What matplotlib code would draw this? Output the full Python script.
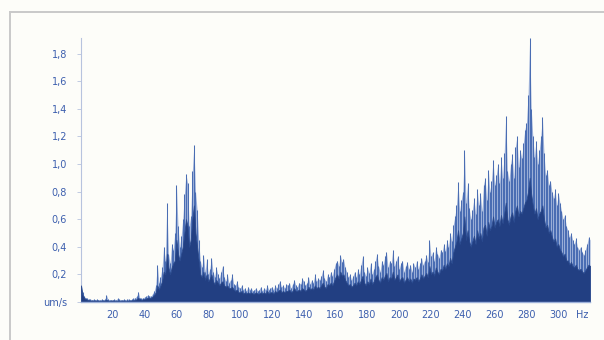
import matplotlib.pyplot as plt
import numpy as np
from matplotlib.lines import Line2D

# Spectrum, 1 Hz steps from 0 to 320 Hz
freq = np.arange(0, 321)

peak = [
    0.15, 0.07, 0.04, 0.03, 0.025, 0.02, 0.02, 0.015, 0.02, 0.015,
    0.02, 0.015, 0.015, 0.02, 0.015, 0.02, 0.05, 0.02, 0.015, 0.015,
    0.015, 0.02, 0.015, 0.025, 0.02, 0.015, 0.015, 0.02, 0.015, 0.02,
    0.02, 0.015, 0.02, 0.025, 0.03, 0.04, 0.075, 0.03, 0.025, 0.03,
    0.035, 0.04, 0.05, 0.045, 0.04, 0.06, 0.08, 0.12, 0.27, 0.14,
    0.18, 0.25, 0.4, 0.3, 0.72, 0.35, 0.28, 0.42, 0.38, 0.5,
    0.85, 0.55, 0.4, 0.48, 0.6, 0.78, 0.93, 0.86, 0.55, 0.62,
    0.95, 1.14, 0.8, 0.67, 0.45, 0.3, 0.25, 0.34, 0.22, 0.31,
    0.2, 0.24, 0.32, 0.22, 0.18, 0.25, 0.2, 0.17, 0.22, 0.26,
    0.18, 0.15, 0.2, 0.14, 0.16, 0.2, 0.13, 0.12, 0.15, 0.11,
    0.1, 0.12, 0.09, 0.1, 0.08, 0.11, 0.09, 0.1, 0.08, 0.09,
    0.1, 0.08, 0.09, 0.11, 0.08, 0.1, 0.09, 0.12, 0.09, 0.1,
    0.11, 0.09, 0.12, 0.1, 0.13, 0.15, 0.11, 0.12, 0.1, 0.13,
    0.12, 0.14, 0.1, 0.13, 0.16, 0.12, 0.11, 0.14, 0.13, 0.17,
    0.15, 0.12, 0.14, 0.18, 0.13, 0.16, 0.14, 0.2, 0.15, 0.17,
    0.16, 0.19, 0.23, 0.17, 0.15, 0.2, 0.18, 0.22, 0.19, 0.24,
    0.28, 0.3, 0.26, 0.34, 0.29, 0.31, 0.25, 0.22, 0.18, 0.2,
    0.16, 0.19, 0.22, 0.18, 0.24, 0.2, 0.27, 0.33, 0.22, 0.19,
    0.25, 0.21, 0.28, 0.2, 0.24, 0.3, 0.35, 0.26, 0.22, 0.3,
    0.27, 0.33, 0.36, 0.25, 0.3, 0.28, 0.38, 0.26, 0.3, 0.33,
    0.24, 0.28, 0.3, 0.22, 0.26, 0.29, 0.24, 0.27, 0.22, 0.28,
    0.25, 0.3, 0.24, 0.28, 0.32, 0.27, 0.3, 0.34, 0.29, 0.45,
    0.33, 0.36, 0.3, 0.4, 0.35, 0.32, 0.38, 0.36, 0.42, 0.37,
    0.45, 0.4, 0.5, 0.44, 0.56, 0.62, 0.7, 0.87, 0.66, 0.74,
    0.8, 1.1, 0.72, 0.86, 0.68, 0.6, 0.67, 0.75, 0.64, 0.82,
    0.7, 0.79, 0.66, 0.85, 0.9, 0.74, 0.96, 0.8, 0.88, 1.03,
    0.85, 0.92, 1.0, 0.86, 1.05, 0.9, 1.08, 1.35, 0.95, 0.88,
    1.0, 1.07, 0.9, 1.12, 1.2, 0.98, 1.1, 1.04, 1.15, 1.25,
    1.3, 1.5, 1.91, 1.4, 1.2, 1.05, 1.17, 1.0, 1.1, 1.2,
    1.34, 1.08, 0.92, 0.96, 0.85, 0.88, 0.8, 0.75, 0.82, 0.7,
    0.79, 0.72, 0.66, 0.6, 0.63, 0.55, 0.52, 0.47, 0.5, 0.45,
    0.42, 0.46, 0.4, 0.38, 0.4, 0.36, 0.34, 0.38, 0.42, 0.47,
    0.45,
]

body = [
    0.12, 0.05, 0.03, 0.02, 0.015, 0.012, 0.01, 0.01, 0.01, 0.01,
    0.01, 0.01, 0.008, 0.01, 0.01, 0.01, 0.015, 0.01, 0.008, 0.01,
    0.01, 0.01, 0.008, 0.01, 0.01, 0.008, 0.01, 0.01, 0.008, 0.01,
    0.01, 0.01, 0.012, 0.012, 0.015, 0.02, 0.03, 0.02, 0.015, 0.02,
    0.02, 0.025, 0.03, 0.03, 0.03, 0.04, 0.05, 0.07, 0.12, 0.09,
    0.12, 0.15, 0.22, 0.2, 0.35, 0.25, 0.2, 0.25, 0.28, 0.3,
    0.45, 0.35, 0.3, 0.35, 0.4, 0.5, 0.6, 0.55, 0.4, 0.45,
    0.6, 0.7, 0.5, 0.4, 0.3, 0.2, 0.18, 0.22, 0.16, 0.2,
    0.15, 0.17, 0.2, 0.15, 0.13, 0.16, 0.14, 0.12, 0.14, 0.15,
    0.12, 0.11, 0.12, 0.1, 0.1, 0.11, 0.09, 0.08, 0.09, 0.07,
    0.07, 0.08, 0.06, 0.07, 0.06, 0.07, 0.06, 0.07, 0.06, 0.06,
    0.07, 0.06, 0.06, 0.07, 0.06, 0.07, 0.06, 0.08, 0.06, 0.07,
    0.07, 0.06, 0.08, 0.07, 0.08, 0.09, 0.07, 0.08, 0.07, 0.08,
    0.08, 0.09, 0.07, 0.08, 0.1, 0.08, 0.08, 0.09, 0.08, 0.1,
    0.09, 0.08, 0.09, 0.11, 0.09, 0.1, 0.09, 0.12, 0.1, 0.11,
    0.1, 0.12, 0.14, 0.11, 0.1, 0.13, 0.12, 0.14, 0.12, 0.15,
    0.18, 0.2, 0.17, 0.22, 0.19, 0.2, 0.16, 0.14, 0.12, 0.13,
    0.11, 0.12, 0.14, 0.12, 0.15, 0.13, 0.16, 0.19, 0.14, 0.12,
    0.15, 0.13, 0.17, 0.13, 0.15, 0.18, 0.2, 0.16, 0.14, 0.18,
    0.16, 0.19, 0.21, 0.15, 0.18, 0.17, 0.22, 0.16, 0.18, 0.2,
    0.15, 0.17, 0.18, 0.14, 0.16, 0.18, 0.15, 0.17, 0.14, 0.17,
    0.16, 0.18, 0.15, 0.17, 0.2, 0.17, 0.19, 0.21, 0.18, 0.26,
    0.2, 0.22, 0.19, 0.25, 0.22, 0.2, 0.24, 0.23, 0.27, 0.24,
    0.28, 0.26, 0.32, 0.28, 0.36, 0.4, 0.44, 0.52, 0.42, 0.46,
    0.5, 0.62, 0.45, 0.52, 0.44, 0.4, 0.44, 0.48, 0.42, 0.52,
    0.46, 0.5, 0.44, 0.54, 0.56, 0.48, 0.58, 0.52, 0.55, 0.62,
    0.54, 0.58, 0.6, 0.55, 0.63, 0.57, 0.64, 0.72, 0.6, 0.56,
    0.62, 0.65, 0.58, 0.66, 0.7, 0.62, 0.66, 0.64, 0.68, 0.72,
    0.74, 0.8, 0.9, 0.78, 0.7, 0.64, 0.68, 0.6, 0.64, 0.66,
    0.7, 0.6, 0.54, 0.56, 0.5, 0.52, 0.47, 0.44, 0.46, 0.4,
    0.42, 0.38, 0.36, 0.33, 0.35, 0.3, 0.3, 0.27, 0.29, 0.26,
    0.25, 0.27, 0.24, 0.23, 0.24, 0.22, 0.21, 0.23, 0.25, 0.27,
    0.26,
]

x_ticks = [20, 40, 60, 80, 100, 120, 140, 160, 180, 200, 220, 240, 260, 280, 300, 315]
x_labels = ['20', '40', '60', '80', '100', '120', '140', '160', '180', '200',
            '220', '240', '260', '280', '300', 'Hz']
y_ticks = [0, 0.2, 0.4, 0.6, 0.8, 1.0, 1.2, 1.4, 1.6, 1.8]
y_labels = ['um/s', '0,2', '0,4', '0,6', '0,8', '1,0', '1,2', '1,4', '1,6', '1,8']

text_color = '#3d5fae'
bg = '#fdfdf9'

fig = plt.figure(figsize=(6.04, 3.4), dpi=100, facecolor=bg)
ax = fig.add_axes([0.134, 0.112, 0.843, 0.776])
ax.set_facecolor(bg)

# soft light spikes, then the dark dense body on top
ax.fill_between(freq, 0, peak, color='#7f99cf', lw=0, alpha=0.75, zorder=1)
ax.vlines(freq, 0, peak, color='#4a6db3', lw=0.75, zorder=2)
ax.fill_between(freq, 0, body, color='#223f82', lw=0.6, edgecolor='#2a4a8e', zorder=3)

ax.set_xlim(0, 320)
ax.set_ylim(0, 1.913)

# Setting spines
for s in ['top', 'right']:
    ax.spines[s].set_visible(False)
ax.spines['left'].set_color('#b7c3de')
ax.spines['bottom'].set_color('#9db1da')
ax.spines['left'].set_linewidth(0.8)
ax.spines['bottom'].set_linewidth(1.0)
ax.spines['bottom'].set_zorder(4)

ax.set_xticks(x_ticks)
ax.set_xticklabels(x_labels)
ax.set_yticks(y_ticks)
ax.set_yticklabels(y_labels)
ax.tick_params(axis='x', length=0, pad=6, labelsize=7, labelcolor=text_color)
ax.tick_params(axis='y', length=3, width=0.6, color='#b7c3de', pad=7,
               labelsize=7, labelcolor=text_color)

# gray frame round the chart
fig.add_artist(Line2D([0.0166, 1.0], [0.965, 0.965], transform=fig.transFigure,
                      color='#c9c9c9', lw=1.4))
fig.add_artist(Line2D([0.0166, 0.0166], [0.0, 0.965], transform=fig.transFigure,
                      color='#c9c9c9', lw=1.4))

fig.savefig('out.png', dpi=100, facecolor=bg)
